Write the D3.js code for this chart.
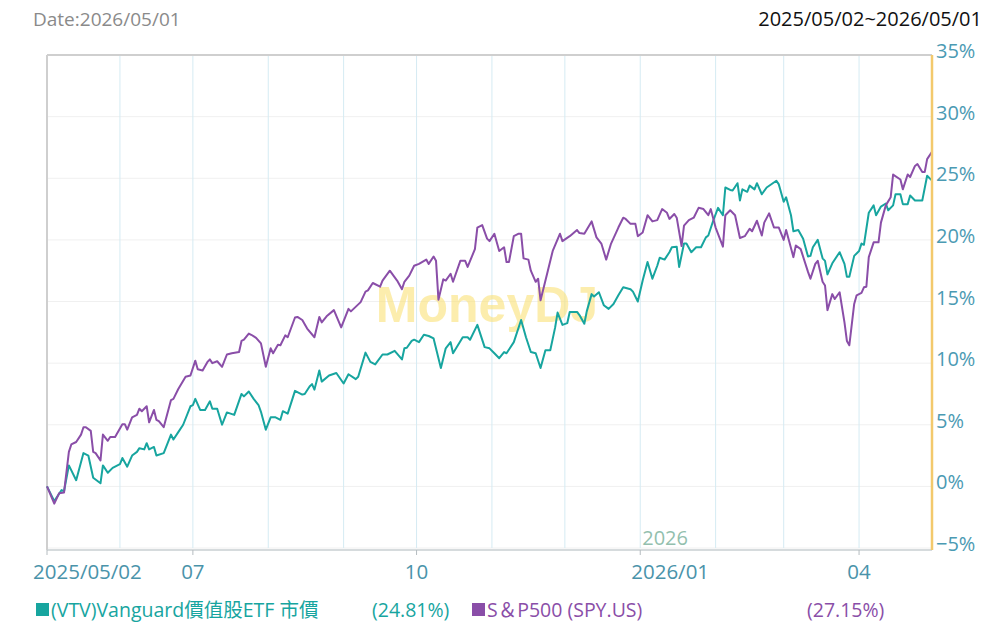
<!DOCTYPE html>
<html>
<head>
<meta charset="utf-8">
<script src="https://cdn.jsdelivr.net/npm/d3@7"></script>
<style>
  body { margin: 0; background: #fff; }
  text { font-family: "Open Sans", "Noto Sans CJK TC", sans-serif; }
</style>
</head>
<body>
<div id="chart"></div>
<script>
// cumulative return (%)
var vtvSeries = [
  ["2025/05/02", 0], ["2025/05/05", -1.2], ["2025/05/08", -0.3], ["2025/05/09", -0.4], ["2025/05/11", 1.7],
  ["2025/05/14", 0.5], ["2025/05/17", 2.7], ["2025/05/19", 2.5], ["2025/05/21", 0.7], ["2025/05/24", 0.25],
  ["2025/05/25", 1.7], ["2025/05/27", 1.1], ["2025/05/29", 1.5], ["2025/06/01", 1.8], ["2025/06/02", 2.3],
  ["2025/06/04", 1.6], ["2025/06/06", 2.5], ["2025/06/08", 2.8], ["2025/06/09", 3.1], ["2025/06/11", 3.0],
  ["2025/06/12", 3.5], ["2025/06/13", 3.0], ["2025/06/15", 3.2], ["2025/06/16", 2.5], ["2025/06/19", 2.7],
  ["2025/06/22", 4.2], ["2025/06/23", 3.8], ["2025/06/25", 4.4], ["2025/06/27", 5.0], ["2025/06/30", 6.5],
  ["2025/07/01", 6.6], ["2025/07/02", 7.1], ["2025/07/04", 6.2], ["2025/07/06", 6.2], ["2025/07/08", 6.9],
  ["2025/07/09", 6.3], ["2025/07/11", 6.3], ["2025/07/13", 5.0], ["2025/07/15", 6.0], ["2025/07/18", 5.8],
  ["2025/07/21", 7.5], ["2025/07/22", 7.3], ["2025/07/24", 7.7], ["2025/07/26", 7.1], ["2025/07/28", 6.6],
  ["2025/07/29", 6.05], ["2025/07/31", 4.6], ["2025/08/02", 5.6], ["2025/08/04", 5.6], ["2025/08/06", 5.4],
  ["2025/08/07", 6.1], ["2025/08/09", 5.9], ["2025/08/12", 7.75], ["2025/08/15", 7.45], ["2025/08/16", 7.5],
  ["2025/08/18", 8.1], ["2025/08/19", 8.3], ["2025/08/20", 7.85], ["2025/08/22", 9.4], ["2025/08/23", 8.5],
  ["2025/08/26", 9.0], ["2025/08/29", 9.2], ["2025/09/01", 8.35], ["2025/09/03", 9.1], ["2025/09/06", 8.7],
  ["2025/09/07", 8.9], ["2025/09/10", 10.85], ["2025/09/12", 10.1], ["2025/09/14", 9.9], ["2025/09/17", 10.7],
  ["2025/09/19", 10.7], ["2025/09/22", 11.0], ["2025/09/25", 10.3], ["2025/09/26", 11.2], ["2025/09/27", 11.25],
  ["2025/09/29", 11.8], ["2025/09/30", 11.9], ["2025/10/02", 11.7], ["2025/10/04", 12.3], ["2025/10/06", 12.2],
  ["2025/10/08", 12.0], ["2025/10/11", 9.6], ["2025/10/13", 11.2], ["2025/10/15", 11.7], ["2025/10/16", 10.8],
  ["2025/10/20", 12.1], ["2025/10/22", 12.1], ["2025/10/23", 11.9], ["2025/10/26", 13.1], ["2025/10/29", 11.3],
  ["2025/10/31", 11.2], ["2025/11/02", 10.8], ["2025/11/04", 10.4], ["2025/11/06", 10.9], ["2025/11/07", 10.8],
  ["2025/11/10", 11.7], ["2025/11/13", 13.5], ["2025/11/15", 12.1], ["2025/11/17", 10.9], ["2025/11/19", 10.8],
  ["2025/11/21", 9.6], ["2025/11/23", 11.05], ["2025/11/25", 11.05], ["2025/11/27", 12.9], ["2025/11/28", 14.1],
  ["2025/11/30", 13.1], ["2025/12/02", 13.25], ["2025/12/03", 14.15], ["2025/12/06", 14.15], ["2025/12/07", 13.9],
  ["2025/12/09", 13.2], ["2025/12/10", 14.2], ["2025/12/12", 15.6], ["2025/12/13", 15.4], ["2025/12/15", 15.75],
  ["2025/12/17", 14.7], ["2025/12/19", 14.4], ["2025/12/21", 14.8], ["2025/12/23", 15.5], ["2025/12/25", 16.15],
  ["2025/12/28", 16.0], ["2025/12/29", 15.8], ["2025/12/31", 15.0], ["2026/01/02", 16.7], ["2026/01/04", 18.2],
  ["2026/01/06", 16.85], ["2026/01/08", 17.9], ["2026/01/09", 18.55], ["2026/01/11", 18.4], ["2026/01/13", 19.0],
  ["2026/01/14", 19.4], ["2026/01/16", 19.45], ["2026/01/17", 17.8], ["2026/01/19", 19.7], ["2026/01/20", 19.7],
  ["2026/01/22", 19.0], ["2026/01/24", 19.4], ["2026/01/26", 19.4], ["2026/01/28", 20.2], ["2026/01/29", 20.35],
  ["2026/01/31", 21.55], ["2026/02/02", 22.6], ["2026/02/04", 22.0], ["2026/02/05", 24.25], ["2026/02/07", 24.05],
  ["2026/02/08", 24.0], ["2026/02/10", 24.6], ["2026/02/11", 23.2], ["2026/02/12", 24.1], ["2026/02/14", 23.9],
  ["2026/02/15", 24.4], ["2026/02/17", 24.1], ["2026/02/18", 24.6], ["2026/02/20", 23.7], ["2026/02/22", 24.25],
  ["2026/02/26", 24.8], ["2026/02/27", 24.5], ["2026/03/01", 23.1], ["2026/03/02", 23.45], ["2026/03/04", 22.0],
  ["2026/03/05", 20.7], ["2026/03/07", 20.8], ["2026/03/09", 20.1], ["2026/03/11", 18.65], ["2026/03/12", 18.7],
  ["2026/03/13", 19.4], ["2026/03/15", 20.0], ["2026/03/17", 18.5], ["2026/03/18", 18.3], ["2026/03/19", 17.2],
  ["2026/03/21", 18.1], ["2026/03/24", 19.0], ["2026/03/26", 18.05], ["2026/03/27", 17.0], ["2026/03/28", 17.0],
  ["2026/03/30", 18.7], ["2026/04/01", 19.1], ["2026/04/02", 19.7], ["2026/04/03", 19.6], ["2026/04/05", 22.2],
  ["2026/04/07", 22.8], ["2026/04/08", 22.0], ["2026/04/10", 22.7], ["2026/04/12", 22.95], ["2026/04/13", 22.4],
  ["2026/04/15", 22.8], ["2026/04/16", 23.7], ["2026/04/18", 23.7], ["2026/04/19", 22.9], ["2026/04/21", 22.9],
  ["2026/04/22", 23.6], ["2026/04/24", 23.2], ["2026/04/27", 23.2], ["2026/04/29", 25.2], ["2026/05/01", 24.81]
];

var spySeries = [
  ["2025/05/02", 0], ["2025/05/05", -1.4], ["2025/05/07", -0.55], ["2025/05/09", -0.5], ["2025/05/11", 2.8],
  ["2025/05/12", 3.4], ["2025/05/14", 3.6], ["2025/05/16", 4.2], ["2025/05/17", 4.8], ["2025/05/18", 4.8],
  ["2025/05/20", 4.5], ["2025/05/21", 2.8], ["2025/05/22", 2.7], ["2025/05/24", 2.1], ["2025/05/25", 4.2],
  ["2025/05/27", 3.7], ["2025/05/28", 4.0], ["2025/05/30", 4.0], ["2025/06/02", 5.05], ["2025/06/03", 5.05],
  ["2025/06/04", 4.6], ["2025/06/06", 5.6], ["2025/06/08", 5.8], ["2025/06/09", 6.3], ["2025/06/10", 6.1],
  ["2025/06/12", 6.5], ["2025/06/13", 5.2], ["2025/06/15", 6.2], ["2025/06/16", 5.4], ["2025/06/17", 5.3],
  ["2025/06/19", 4.8], ["2025/06/22", 7.0], ["2025/06/23", 7.1], ["2025/06/25", 7.9], ["2025/06/28", 8.9],
  ["2025/06/30", 9.0], ["2025/07/02", 10.2], ["2025/07/03", 9.5], ["2025/07/05", 9.4], ["2025/07/07", 10.1],
  ["2025/07/08", 10.3], ["2025/07/09", 10.0], ["2025/07/11", 10.15], ["2025/07/13", 9.7], ["2025/07/15", 10.7],
  ["2025/07/17", 10.8], ["2025/07/20", 10.9], ["2025/07/21", 11.8], ["2025/07/22", 11.9], ["2025/07/24", 12.4],
  ["2025/07/25", 12.3], ["2025/07/27", 12.05], ["2025/07/29", 11.6], ["2025/07/31", 9.7], ["2025/08/02", 11.2],
  ["2025/08/03", 10.8], ["2025/08/05", 11.5], ["2025/08/06", 11.45], ["2025/08/08", 12.25], ["2025/08/09", 12.1],
  ["2025/08/12", 13.7], ["2025/08/13", 13.75], ["2025/08/15", 13.5], ["2025/08/17", 12.8], ["2025/08/20", 12.1],
  ["2025/08/22", 13.75], ["2025/08/23", 13.3], ["2025/08/25", 13.8], ["2025/08/28", 14.3], ["2025/08/31", 12.9],
  ["2025/09/03", 14.4], ["2025/09/04", 14.2], ["2025/09/08", 14.95], ["2025/09/10", 15.8], ["2025/09/11", 15.9],
  ["2025/09/13", 16.5], ["2025/09/16", 16.2], ["2025/09/17", 16.7], ["2025/09/20", 17.5], ["2025/09/23", 16.7],
  ["2025/09/25", 16.0], ["2025/09/26", 16.6], ["2025/09/28", 17.1], ["2025/09/30", 17.9], ["2025/10/02", 18.05],
  ["2025/10/05", 18.4], ["2025/10/06", 18.05], ["2025/10/08", 18.65], ["2025/10/09", 18.3], ["2025/10/10", 15.15],
  ["2025/10/12", 16.8], ["2025/10/13", 16.7], ["2025/10/15", 17.25], ["2025/10/16", 16.6], ["2025/10/19", 18.3],
  ["2025/10/21", 18.3], ["2025/10/22", 17.8], ["2025/10/25", 19.25], ["2025/10/26", 21.0], ["2025/10/28", 21.2],
  ["2025/10/30", 20.1], ["2025/10/31", 19.9], ["2025/11/02", 20.5], ["2025/11/04", 19.1], ["2025/11/06", 19.4],
  ["2025/11/07", 18.2], ["2025/11/08", 18.2], ["2025/11/10", 20.3], ["2025/11/12", 20.5], ["2025/11/13", 20.5],
  ["2025/11/14", 18.5], ["2025/11/16", 18.4], ["2025/11/17", 17.5], ["2025/11/19", 16.6], ["2025/11/20", 16.85],
  ["2025/11/21", 15.1], ["2025/11/24", 17.5], ["2025/11/26", 19.1], ["2025/11/29", 20.5], ["2025/11/30", 19.9],
  ["2025/12/03", 20.3], ["2025/12/06", 20.8], ["2025/12/07", 20.55], ["2025/12/09", 20.5], ["2025/12/12", 21.5],
  ["2025/12/14", 20.2], ["2025/12/16", 19.7], ["2025/12/18", 18.4], ["2025/12/20", 19.7], ["2025/12/23", 21.0],
  ["2025/12/25", 21.8], ["2025/12/26", 21.7], ["2025/12/28", 21.3], ["2025/12/30", 21.3], ["2025/12/31", 20.3],
  ["2026/01/02", 20.6], ["2026/01/04", 22.0], ["2026/01/06", 21.5], ["2026/01/08", 21.6], ["2026/01/10", 22.5],
  ["2026/01/12", 22.2], ["2026/01/13", 21.7], ["2026/01/15", 22.1], ["2026/01/16", 21.8], ["2026/01/18", 19.5],
  ["2026/01/19", 21.15], ["2026/01/21", 21.6], ["2026/01/23", 21.8], ["2026/01/25", 22.6], ["2026/01/27", 22.5],
  ["2026/01/29", 22.0], ["2026/01/30", 22.5], ["2026/02/01", 21.0], ["2026/02/04", 19.45], ["2026/02/05", 22.0],
  ["2026/02/07", 22.4], ["2026/02/09", 22.0], ["2026/02/11", 20.15], ["2026/02/13", 20.3], ["2026/02/15", 20.9],
  ["2026/02/16", 20.7], ["2026/02/18", 21.55], ["2026/02/20", 20.35], ["2026/02/21", 21.4], ["2026/02/23", 22.15],
  ["2026/02/25", 21.0], ["2026/02/27", 21.0], ["2026/03/01", 20.0], ["2026/03/02", 20.8], ["2026/03/05", 18.6],
  ["2026/03/06", 19.55], ["2026/03/08", 19.25], ["2026/03/11", 17.4], ["2026/03/12", 16.85], ["2026/03/14", 18.05],
  ["2026/03/15", 18.3], ["2026/03/17", 16.6], ["2026/03/18", 16.3], ["2026/03/19", 14.3], ["2026/03/21", 15.6],
  ["2026/03/22", 15.2], ["2026/03/24", 15.75], ["2026/03/26", 13.3], ["2026/03/27", 11.8], ["2026/03/28", 11.45],
  ["2026/03/30", 14.8], ["2026/03/31", 15.5], ["2026/04/02", 15.7], ["2026/04/03", 16.15], ["2026/04/04", 16.2],
  ["2026/04/05", 18.6], ["2026/04/07", 19.8], ["2026/04/09", 19.8], ["2026/04/10", 21.4], ["2026/04/12", 22.8],
  ["2026/04/14", 23.45], ["2026/04/15", 25.3], ["2026/04/18", 24.9], ["2026/04/19", 24.1], ["2026/04/21", 25.3],
  ["2026/04/22", 25.1], ["2026/04/24", 26.0], ["2026/04/25", 26.15], ["2026/04/27", 25.5], ["2026/04/28", 25.5],
  ["2026/04/29", 26.55], ["2026/05/01", 27.15]
];

var yTicks = [-5, 0, 5, 10, 15, 20, 25, 30, 35];
var xLabels = [
  ["2025/05/02", "2025/05/02"],
  ["2025/07/01", "07"],
  ["2025/10/01", "10"],
  ["2026/01/01", "2026/01"],
  ["2026/04/01", "04"]
];
var legendItems = [
  { name: "(VTV)Vanguard價值股ETF 市價", pct: "(24.81%)", color: "#17a59f" },
  { name: "S＆P500 (SPY.US)", pct: "(27.15%)", color: "#8a4ea8" }
];

var width = 1000, height = 632;
var plotLeft = 47, plotRight = 932, plotTop = 55, plotBottom = 548;

var parse = d3.timeParse("%Y/%m/%d");
var startDate = parse("2025/05/02"), endDate = parse("2026/05/01");

var svg = d3.select('#chart')
  .append('svg')
    .attr('width', width)
    .attr('height', height);

var x = d3.scaleTime()
  .domain([startDate, endDate])
  .range([plotLeft, plotRight]);

var y = d3.scaleLinear()
  .domain([-5, 35])
  .range([plotBottom, plotTop]);

// header
svg.append('text')
  .attr('x', 33).attr('y', 26)
  .attr('font-size', 19).attr('fill', '#8a8a8a')
  .text('Date:2026/05/01');

svg.append('text')
  .attr('x', 982).attr('y', 26)
  .attr('text-anchor', 'end')
  .attr('font-size', 20).attr('fill', '#111')
  .text('2025/05/02~2026/05/01');

// grid
svg.selectAll('.hgrid')
  .data(yTicks)
  .enter()
  .append('line')
  .attr('x1', plotLeft).attr('x2', plotRight)
  .attr('y1', d => y(d)).attr('y2', d => y(d))
  .style('stroke', '#f0f0f0')
  .style('stroke-width', 1);

var months = d3.timeMonth.range(d3.timeMonth.ceil(startDate), endDate);
svg.selectAll('.vgrid')
  .data(months)
  .enter()
  .append('line')
  .attr('x1', d => x(d)).attr('x2', d => x(d))
  .attr('y1', plotTop).attr('y2', plotBottom)
  .style('stroke', '#d5ebf3')
  .style('stroke-width', 1);

// frame
svg.append('line')
  .attr('x1', plotLeft).attr('x2', plotRight).attr('y1', plotTop).attr('y2', plotTop)
  .style('stroke', '#cfcfcf').style('stroke-width', 2);
svg.append('line')
  .attr('x1', plotLeft).attr('x2', plotLeft).attr('y1', plotTop).attr('y2', plotBottom + 2)
  .style('stroke', '#cfcfcf').style('stroke-width', 2);
svg.append('line')
  .attr('x1', plotLeft).attr('x2', plotRight).attr('y1', plotBottom + 2).attr('y2', plotBottom + 2)
  .style('stroke', '#c9cfd2').style('stroke-width', 1.5);

// "2026" year marker
svg.append('text')
  .attr('x', x(parse("2026/01/01")) + 2).attr('y', plotBottom - 3)
  .attr('font-size', 20).attr('fill', '#93bfae')
  .text('2026');

// watermark
svg.append('text')
  .attr('x', 487).attr('y', 322)
  .attr('text-anchor', 'middle')
  .attr('font-size', 50)
  .attr('font-weight', 'bold')
  .style('font-family', '"Liberation Sans", sans-serif')
  .attr('fill', '#fbe278')
  .attr('opacity', 0.6)
  .text('MoneyDJ');

// lines
var line = d3.line()
  .x(d => x(parse(d[0])))
  .y(d => y(d[1]));

svg.append('path')
  .datum(vtvSeries)
  .attr('d', line)
  .attr('fill', 'none')
  .style('stroke', legendItems[0].color)
  .style('stroke-width', 2)
  .style('stroke-linejoin', 'round');

svg.append('path')
  .datum(spySeries)
  .attr('d', line)
  .attr('fill', 'none')
  .style('stroke', legendItems[1].color)
  .style('stroke-width', 2)
  .style('stroke-linejoin', 'round');

// right axis (orange)
svg.append('line')
  .attr('x1', plotRight).attr('x2', plotRight).attr('y1', plotTop).attr('y2', plotBottom + 2)
  .style('stroke', '#f3c96c').style('stroke-width', 2.5);

svg.selectAll('.ylab')
  .data(yTicks)
  .enter()
  .append('text')
  .attr('x', plotRight + 4)
  .attr('y', d => y(d) + 3)
  .attr('font-size', 20)
  .attr('fill', '#4b9ab3')
  .text(d => (d < 0 ? '\u2212' + Math.abs(d) : d) + '%');

// x axis ticks + labels
svg.selectAll('.xtick')
  .data(xLabels)
  .enter()
  .append('line')
  .attr('x1', d => x(parse(d[0]))).attr('x2', d => x(parse(d[0])))
  .attr('y1', plotBottom + 2).attr('y2', plotBottom + 7)
  .style('stroke', '#b5bcc0');

svg.selectAll('.xlab')
  .data(xLabels)
  .enter()
  .append('text')
  .attr('x', d => x(parse(d[0])))
  .attr('dx', d => d[1].length > 4 ? (d[1].length > 7 ? -14 : -9) : 0)
  .attr('y', 579)
  .attr('text-anchor', d => d[1].length > 4 ? 'start' : 'middle')
  .attr('font-size', 20.5)
  .attr('fill', '#4a93aa')
  .text(d => d[1]);

// legend
var legendX = [36, 472];
var pctX = [372, 807];
var legend = svg.selectAll('.legend')
  .data(legendItems)
  .enter()
  .append('g')
  .attr('transform', (d, i) => 'translate(' + legendX[i] + ',0)');

legend.append('rect')
  .attr('x', 0).attr('y', 603)
  .attr('width', 13).attr('height', 13)
  .attr('fill', d => d.color);

legend.append('text')
  .attr('x', 15).attr('y', 617)
  .attr('font-size', 19.5)
  .attr('fill', d => d.color)
  .text(d => d.name);

svg.selectAll('.pct')
  .data(legendItems)
  .enter()
  .append('text')
  .attr('x', (d, i) => pctX[i]).attr('y', 617)
  .attr('font-size', 19.5)
  .attr('fill', d => d.color)
  .text(d => d.pct);
</script>
</body>
</html>
